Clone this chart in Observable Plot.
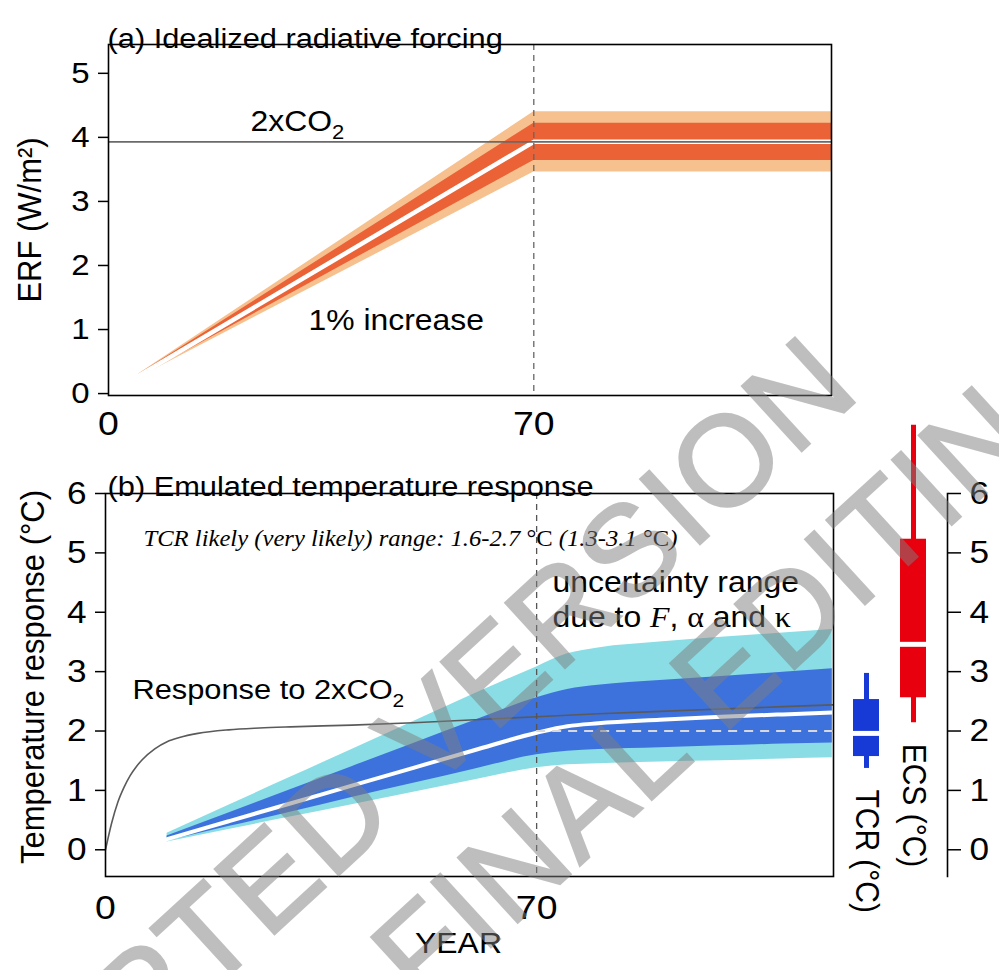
<!DOCTYPE html>
<html><head><meta charset="utf-8">
<script src="https://cdn.jsdelivr.net/npm/d3@7"></script>
<script src="https://cdn.jsdelivr.net/npm/@observablehq/plot@0.6"></script>
<style>
body{margin:0;background:#fff;}
#wrap{position:relative;width:999px;height:970px;overflow:hidden;background:#fff;font-family:"Liberation Sans",Arial,sans-serif;}
</style></head><body><div id="wrap"></div>
<script>
// ---------------- data ----------------
// (a) idealized radiative forcing, 1% per year CO2 increase then held at 2xCO2
const forcingYears        = [5, 70, 119];
const forcingMedian       = [0.28, 3.93, 3.93];
const forcingLikelyLo     = [0.26, 3.64, 3.64];
const forcingLikelyHi     = [0.30, 4.22, 4.22];
const forcingVeryLikelyLo = [0.25, 3.46, 3.46];
const forcingVeryLikelyHi = [0.31, 4.40, 4.40];
const erf2xCO2 = 3.93;
const rampEndYear = 70;
const erfTicks = [0, 1, 2, 3, 4, 5];
const yearTicks = [0, 70];

// (b) emulated temperature response
const tempYears           = [10, 20, 30, 40, 50, 60, 70, 75, 80, 90, 100, 110, 118];
const tempMedian          = [0.18, 0.48, 0.78, 1.08, 1.38, 1.68, 1.97, 2.08, 2.13, 2.19, 2.24, 2.28, 2.31];
const tempLikelyLo        = [0.15, 0.39, 0.63, 0.88, 1.12, 1.36, 1.60, 1.66, 1.69, 1.72, 1.75, 1.78, 1.80];
const tempLikelyHi        = [0.23, 0.62, 1.01, 1.40, 1.79, 2.18, 2.56, 2.70, 2.77, 2.85, 2.92, 2.99, 3.05];
const tempVeryLikelyLo    = [0.13, 0.34, 0.55, 0.76, 0.97, 1.18, 1.38, 1.43, 1.45, 1.48, 1.50, 1.53, 1.55];
const tempVeryLikelyHi    = [0.28, 0.75, 1.22, 1.69, 2.16, 2.63, 3.08, 3.30, 3.40, 3.50, 3.58, 3.65, 3.71];
const tcrBest = 2.0;
const stepYears    = [0, 1, 2, 3, 4, 5, 6, 8, 10, 12, 15, 20, 25, 30, 40, 50, 60, 70, 80, 90, 100, 110, 118];
const stepResponse = [0, 0.45, 0.80, 1.05, 1.25, 1.40, 1.52, 1.70, 1.82, 1.89, 1.96, 2.02, 2.05, 2.07, 2.10, 2.14, 2.19, 2.24, 2.29, 2.33, 2.37, 2.41, 2.44];
const tempTicks = [0, 1, 2, 3, 4, 5, 6];

// box plots (°C)
const boxNames  = ["TCR", "ECS"];
const boxP05    = [1.37, 2.14];
const boxP17    = [1.57, 2.56];
const boxMedian = [1.96, 3.46];
const boxP83    = [2.53, 5.23];
const boxP95    = [2.97, 7.15];

const watermarkLines = ["ACCEPTED VERSION", "FINAL EDITING"];

// ---------------- tables ----------------
const forcing = forcingYears.map((year, i) => ({year, median: forcingMedian[i], lLo: forcingLikelyLo[i], lHi: forcingLikelyHi[i], vLo: forcingVeryLikelyLo[i], vHi: forcingVeryLikelyHi[i]}));
const temp = tempYears.map((year, i) => ({year, median: tempMedian[i], lLo: tempLikelyLo[i], lHi: tempLikelyHi[i], vLo: tempVeryLikelyLo[i], vHi: tempVeryLikelyHi[i]}));
const step = stepYears.map((year, i) => ({year, value: stepResponse[i]}));
const boxes = boxNames.map((name, i) => ({name, p05: boxP05[i], p17: boxP17[i], median: boxMedian[i], p83: boxP83[i], p95: boxP95[i]}));

// ---------------- helpers ----------------
const FONT = "Liberation Sans, Arial, sans-serif";
const SERIF = "Liberation Serif, Times New Roman, serif";
const STRETCH = 1.1;
const intFmt = d3.format("d");
const wrap = document.getElementById("wrap");
function place(el, left, top) {
  el.style.position = "absolute"; el.style.left = left + "px"; el.style.top = top + "px";
  el.style.overflow = "visible"; el.style.maxWidth = "none";
  wrap.appendChild(el);
}
function setRich(svg, match, parts, family) {
  svg.querySelectorAll("text").forEach(t => {
    if (t.textContent !== match) return;
    t.textContent = "";
    if (family) t.setAttribute("font-family", family);
    for (const p of parts) {
      const ts = document.createElementNS("http://www.w3.org/2000/svg", "tspan");
      ts.textContent = p.t;
      if (p.style) ts.setAttribute("font-style", p.style);
      if (p.family) ts.setAttribute("font-family", p.family);
      if (p.size) ts.setAttribute("font-size", p.size);
      if (p.dy) ts.setAttribute("dy", p.dy);
      t.appendChild(ts);
    }
  });
}
function stretchText(svg, s) {
  const num = v => v != null && v.trim() !== "" && !isNaN(+v);
  svg.querySelectorAll("text").forEach(t => {
    const tr = t.getAttribute("transform") || "";
    let pre = "", rest = tr;
    const m = tr.match(/^\s*translate\(([^)]*)\)(.*)$/);
    if (m) { pre = `translate(${m[1]})`; rest = m[2]; }
    let tx = 0, ty = 0;
    const xa = t.getAttribute("x"), ya = t.getAttribute("y");
    if (num(xa)) { tx = +xa; t.removeAttribute("x"); }
    if (num(ya)) { ty = +ya; t.removeAttribute("y"); }
    t.setAttribute("transform", `${pre} translate(${tx},${ty}) scale(${s},1) ${rest}`);
  });
}
const baseStyle = {fontFamily: FONT, fontSize: "28px", color: "#000", background: "transparent", overflow: "visible"};

// ---------------- panel (a) ----------------
const panelA = Plot.plot({
  width: 840, height: 440,
  marginLeft: 108, marginRight: 9, marginTop: 44, marginBottom: 45,
  x: {domain: [0, 119]},
  y: {domain: [-0.03, 5.45]},
  style: baseStyle,
  marks: [
    Plot.areaY(forcing, {x: "year", y1: "vLo", y2: "vHi", fill: "#f6c18f"}),
    Plot.areaY(forcing, {x: "year", y1: "lLo", y2: "lHi", fill: "#ea6236"}),
    Plot.lineY(forcing, {x: "year", y: "median", stroke: "white", strokeWidth: 4.5}),
    Plot.ruleY([erf2xCO2], {stroke: "#6a6a6a", strokeWidth: 1.6}),
    Plot.ruleX([rampEndYear], {stroke: "#666", strokeWidth: 1.3, strokeDasharray: "6,5"}),
    Plot.frame({stroke: "#000", strokeWidth: 1.6}),
    Plot.axisY({ticks: erfTicks, tickFormat: intFmt, tickSize: 10, tickPadding: 9, fontSize: 30, label: null, stroke: "#000", strokeWidth: 1.5}),
    Plot.axisX({ticks: yearTicks, tickFormat: intFmt, tickSize: 0, tickPadding: 15, fontSize: 34, label: null}),
    Plot.text(["ERF (W/m²)"], {text: d => d, frameAnchor: "left", textAnchor: "middle", rotate: -90, dx: -78, fontSize: 31}),
    Plot.text(["(a) Idealized radiative forcing"], {text: d => d, frameAnchor: "top-left", textAnchor: "start", dx: -1, dy: -16, fontSize: 28}),
    Plot.text(["2xCO2"], {text: d => d, frameAnchor: "top-left", textAnchor: "start", dx: 142, dy: 66, fontSize: 29}),
    Plot.text(["1% increase"], {text: d => d, frameAnchor: "top-left", textAnchor: "start", dx: 200, dy: 265, fontSize: 29})
  ]
});
setRich(panelA, "2xCO2", [{t: "2xCO"}, {t: "2", size: "20px", dy: "8"}]);
stretchText(panelA, STRETCH);
place(panelA, 0, 0);

// ---------------- panel (b) ----------------
const panelB = Plot.plot({
  width: 840, height: 510,
  marginLeft: 105, marginRight: 7, marginTop: 33, marginBottom: 94,
  x: {domain: [0, 118.2]},
  y: {domain: [-0.45, 6]},
  style: baseStyle,
  marks: [
    Plot.areaY(temp, {x: "year", y1: "vLo", y2: "vHi", fill: "#8adde4", curve: "monotone-x"}),
    Plot.areaY(temp, {x: "year", y1: "lLo", y2: "lHi", fill: "#3d72dc", curve: "monotone-x"}),
    Plot.lineY(temp, {x: "year", y: "median", stroke: "white", strokeWidth: 4, curve: "monotone-x"}),
    Plot.ruleY([tcrBest], {x1: rampEndYear, x2: 118.2, stroke: "#d8d8d8", strokeWidth: 2, strokeDasharray: "9,7"}),
    Plot.lineY(step, {x: "year", y: "value", stroke: "#5a5a5a", strokeWidth: 1.6, curve: "monotone-x"}),
    Plot.ruleX([rampEndYear], {stroke: "#555", strokeWidth: 1.3, strokeDasharray: "6,5"}),
    Plot.frame({stroke: "#000", strokeWidth: 1.6}),
    Plot.axisY({ticks: tempTicks, tickFormat: intFmt, tickSize: 10, tickPadding: 9, fontSize: 32, label: null, stroke: "#000", strokeWidth: 1.5}),
    Plot.axisX({ticks: yearTicks, tickFormat: intFmt, tickSize: 0, tickPadding: 18, fontSize: 34, label: null}),
    Plot.text(["Temperature response (°C)"], {text: d => d, frameAnchor: "left", textAnchor: "middle", rotate: -90, dx: -72, dy: -8, fontSize: 31}),
    Plot.text(["YEAR"], {text: d => d, frameAnchor: "bottom", dx: -11, dy: 76, fontSize: 29}),
    Plot.text(["(b) Emulated temperature response"], {text: d => d, frameAnchor: "top-left", textAnchor: "start", dx: 2, dy: -17, fontSize: 28}),
    Plot.text(["TCR likely (very likely) range: 1.6-2.7 °C (1.3-3.1 °C)"], {text: d => d, frameAnchor: "top-left", textAnchor: "start", dx: 38, dy: 37, fontSize: 22.4}),
    Plot.text(["uncertainty range"], {text: d => d, frameAnchor: "top-left", textAnchor: "start", dx: 447, dy: 78, fontSize: 29}),
    Plot.text(["due to F, α and κ"], {text: d => d, frameAnchor: "top-left", textAnchor: "start", dx: 447, dy: 113, fontSize: 29}),
    Plot.text(["Response to 2xCO2"], {text: d => d, frameAnchor: "top-left", textAnchor: "start", dx: 27, dy: 186, fontSize: 28})
  ]
});
setRich(panelB, "Response to 2xCO2", [{t: "Response to 2xCO"}, {t: "2", size: "19px", dy: "8"}]);
setRich(panelB, "TCR likely (very likely) range: 1.6-2.7 °C (1.3-3.1 °C)", [
  {t: "TCR likely (very likely) range: 1.6-2.7 ", style: "italic"},
  {t: "°C", style: "normal"},
  {t: " (1.3-3.1 ", style: "italic"},
  {t: "°C", style: "normal"},
  {t: ")", style: "italic"}
], SERIF);
setRich(panelB, "due to F, α and κ", [
  {t: "due to "}, {t: "F", family: SERIF, style: "italic"}, {t: ", "},
  {t: "α", family: SERIF}, {t: " and "}, {t: "κ", family: SERIF}
]);
stretchText(panelB, STRETCH);
place(panelB, 0, 460);

// ---------------- box plots + right axis ----------------
const boxPlot = Plot.plot({
  width: 159, height: 570,
  marginLeft: 0, marginRight: 52, marginTop: 93, marginBottom: 94,
  x: {type: "band", domain: boxNames, range: [13, 86], paddingInner: 0.447, paddingOuter: 0, round: false, axis: null},
  y: {domain: [-0.45, 6]},
  color: {domain: boxNames, range: ["#1739d6", "#e8000f"]},
  style: baseStyle,
  marks: [
    Plot.ruleX(boxes, {x: "name", y1: "p05", y2: "p95", stroke: "name", strokeWidth: 5}),
    Plot.barY(boxes, {x: "name", y1: "p17", y2: "p83", fill: "name"}),
    Plot.tickY(boxes, {x: "name", y: "median", stroke: "white", strokeWidth: 5}),
    Plot.frame({anchor: "right", stroke: "#000", strokeWidth: 1.6}),
    Plot.axisY({anchor: "right", ticks: tempTicks, tickFormat: intFmt, tickSize: 13, tickPadding: 9, fontSize: 32, label: null, stroke: "#000", strokeWidth: 1.5}),
    Plot.text(boxes, {x: "name", y: "p05", text: d => d.name + " (°C)", rotate: 90, textAnchor: "start", dy: 21, fontSize: 30})
  ]
});
stretchText(boxPlot, STRETCH);
place(boxPlot, 840, 400);

// ---------------- watermark ----------------
const wmPos = [[339, 814], [739, 659]];
const wm = d3.create("svg").attr("width", 999).attr("height", 970)
  .style("position", "absolute").style("left", "0px").style("top", "0px").style("pointer-events", "none");
const wmG = wm.append("g").attr("opacity", 0.5);
wmG.selectAll("text").data(watermarkLines).join("text")
  .attr("transform", (d, i) => `translate(${wmPos[i][0]},${wmPos[i][1]}) rotate(-42.5)`)
  .attr("text-anchor", "middle").attr("dy", "0.35em")
  .attr("font-family", FONT).attr("font-size", 128).attr("letter-spacing", 2)
  .attr("fill", "#7f7f7f").attr("stroke", "#7f7f7f").attr("stroke-width", 2.5).attr("stroke-linejoin", "miter")
  .text(d => d);
wrap.appendChild(wm.node());
</script>
</body></html>
